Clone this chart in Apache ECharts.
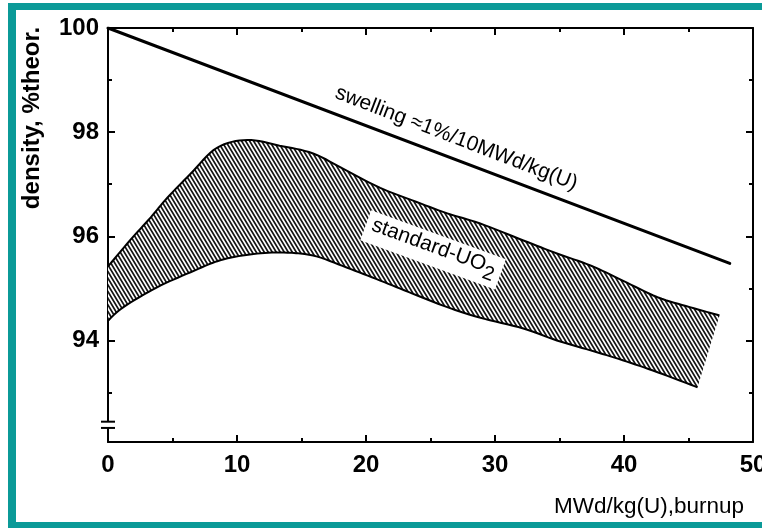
<!DOCTYPE html>
<html>
<head>
<meta charset="utf-8">
<script src="https://cdn.jsdelivr.net/npm/echarts@6/dist/echarts.min.js"></script>
<style>
  html, body { margin: 0; padding: 0; background: #fff; overflow: hidden; }
  #frame {
    position: absolute; left: 8px; top: 3px; width: 754px; height: 525px;
    box-sizing: border-box;
    border-left: 8px solid #0b9a98; border-top: 7px solid #0b9a98; border-bottom: 6px solid #0b9a98;
  }
  #chart { position: absolute; left: 0; top: 0; width: 762px; height: 528px; }
</style>
</head>
<body>
<div id="frame"></div>
<div id="chart"></div>
<script>
// Burnup axis (MWd/kg(U)) and density axis (% of theoretical density)
const xMin = 0, xMax = 50, xStep = 10;
const yMin = 92.05, yMax = 100;
const yLabelValues = [94, 96, 98, 100];
const yMinorValues = [93, 95, 97, 99];

// Swelling trend line: about 1% per 10 MWd/kg(U)
const swellingX = [0, 48.2];
const swellingY = [100, 95.48];

// Upper and lower edges of the standard-UO2 scatter band
const upperX = [0, 1.7, 3.3, 4.6, 6.4, 8.45, 10.8, 13.3, 15.9, 18.5, 21.1, 23.6, 26.3, 28.8, 32.2, 34.8, 37.4, 39.9, 42.6, 45.1, 47.4];
const upperY = [95.42, 95.92, 96.36, 96.74, 97.2, 97.7, 97.85, 97.74, 97.59, 97.26, 96.93, 96.69, 96.44, 96.25, 95.92, 95.67, 95.44, 95.15, 94.83, 94.64, 94.48];
const lowerX = [0, 1.2, 3.8, 6.4, 8.7, 11.0, 13.3, 15.9, 18.5, 21.1, 23.6, 26.3, 28.8, 32.2, 34.8, 37.4, 39.9, 42.6, 45.7];
const lowerY = [94.38, 94.64, 95.02, 95.31, 95.54, 95.65, 95.69, 95.63, 95.40, 95.15, 94.90, 94.64, 94.44, 94.23, 94.00, 93.81, 93.62, 93.39, 93.10];

// Broken-axis marks on the density axis
const breakLevels = [92.44, 92.32];

// In-plot annotations (anchor in data units)
const swellingNote = { text: 'swelling \u22481%/10MWd/kg(U)', x: 27.0, y: 97.88 };
const bandNote = { text: 'standard-UO', sub: '2', x: 25.2, y: 95.74 };

const FONT = '"Liberation Sans", Arial, Helvetica, sans-serif';

// Diagonal hatch used to fill the band
function makeHatch() {
  const W = 4, H = 20, k = 0.6, period = 4;
  const c = document.createElement('canvas');
  c.width = W; c.height = H;
  const ctx = c.getContext('2d');
  const img = ctx.createImageData(W, H);
  for (let y = 0; y < H; y++) {
    for (let x = 0; x < W; x++) {
      let cov = 0;
      for (let sy = 0; sy < 4; sy++) {
        for (let sx = 0; sx < 4; sx++) {
          const px = x + (sx + 0.5) / 4, py = y + (sy + 0.5) / 4;
          const ph = ((px - py * k) % period + period) % period;
          if (ph < 2) cov++;
        }
      }
      const v = Math.round(255 - (255 - 20) * cov / 16);
      const i = (y * W + x) * 4;
      img.data[i] = v; img.data[i + 1] = v; img.data[i + 2] = v; img.data[i + 3] = 255;
    }
  }
  ctx.putImageData(img, 0, 0);
  return c;
}
const hatch = makeHatch();

// Catmull-Rom curve through screen points, so the band edges render smoothly
function smoothPath(pts, seg) {
  const out = [pts[0]];
  const n = pts.length;
  for (let i = 0; i < n - 1; i++) {
    const p0 = pts[Math.max(i - 1, 0)], p1 = pts[i], p2 = pts[i + 1], p3 = pts[Math.min(i + 2, n - 1)];
    for (let s = 1; s <= seg; s++) {
      const t = s / seg, t2 = t * t, t3 = t2 * t;
      const f = (a, b, c, d) => 0.5 * (2 * b + (-a + c) * t + (2 * a - 5 * b + 4 * c - d) * t2 + (-a + 3 * b - 3 * c + d) * t3);
      out.push([f(p0[0], p1[0], p2[0], p3[0]), f(p0[1], p1[1], p2[1], p3[1])]);
    }
  }
  return out;
}

const axisLineStyle = { color: '#000', width: 2 };
const tickStyle = { color: '#000', width: 2 };
const tickLabel = { fontSize: 24, fontWeight: 'bold', color: '#000', fontFamily: FONT };

function xAxisDef(pos, showLabels) {
  return {
    type: 'value', position: pos, min: xMin, max: xMax, interval: xStep,
    axisLine: { show: true, lineStyle: axisLineStyle },
    axisTick: { show: true, inside: true, length: 7, lineStyle: tickStyle },
    minorTick: { show: true, splitNumber: 2, length: 4, lineStyle: tickStyle },
    splitLine: { show: false },
    axisLabel: Object.assign({ show: showLabels, margin: 11, hideOverlap: false }, tickLabel)
  };
}
function yAxisDef(pos, tickValues, len, showLine, showLabels) {
  return {
    type: 'value', position: pos, min: yMin, max: yMax,
    axisLine: { show: showLine, lineStyle: axisLineStyle },
    axisTick: { show: true, inside: true, length: len, customValues: tickValues, lineStyle: tickStyle },
    splitLine: { show: false },
    axisLabel: showLabels
      ? Object.assign({ show: true, customValues: yLabelValues, margin: 9 }, tickLabel)
      : { show: false }
  };
}

const chart = echarts.init(document.getElementById('chart'), null, { renderer: 'canvas' });

chart.setOption({
  animation: false,
  backgroundColor: 'transparent',
  grid: { left: 108, right: 9, top: 28, bottom: 86, containLabel: false, outerBoundsMode: 'none' },
  xAxis: [xAxisDef('bottom', true), xAxisDef('top', false)],
  yAxis: [
    yAxisDef('left', yLabelValues, 7, true, true),
    yAxisDef('left', yMinorValues, 4, false, false),
    yAxisDef('right', yLabelValues, 7, true, false),
    yAxisDef('right', yMinorValues, 4, false, false)
  ],
  graphic: [
    {
      type: 'text', x: 32, y: 118, rotation: Math.PI / 2,
      style: { text: 'density, %theor.', font: 'bold 24px ' + FONT, fill: '#000', align: 'center', verticalAlign: 'middle' }
    },
    {
      type: 'text', x: 744, y: 507,
      style: { text: 'MWd/kg(U),burnup', font: '22.5px ' + FONT, fill: '#000', align: 'right', verticalAlign: 'middle' }
    }
  ],
  series: [
    {
      name: 'standard-UO2 band',
      type: 'custom',
      coordinateSystem: 'cartesian2d',
      xAxisIndex: 0, yAxisIndex: 0,
      clip: false,
      z: 2,
      data: [[upperX[0], upperY[0]]],
      renderItem: function (params, api) {
        const up = smoothPath(upperX.map((x, i) => api.coord([x, upperY[i]])), 8);
        const lo = smoothPath(lowerX.map((x, i) => api.coord([x, lowerY[i]])), 8);
        const poly = up.concat(lo.slice().reverse());
        return {
          type: 'group',
          children: [
            { type: 'polygon', shape: { points: poly }, style: { fill: { image: hatch, repeat: 'repeat' }, stroke: null } },
            { type: 'polyline', shape: { points: up }, style: { stroke: '#000', lineWidth: 2, fill: null } },
            { type: 'polyline', shape: { points: lo }, style: { stroke: '#000', lineWidth: 2, fill: null } }
          ]
        };
      }
    },
    {
      name: 'swelling',
      type: 'line',
      xAxisIndex: 0, yAxisIndex: 0,
      data: swellingX.map((x, i) => [x, swellingY[i]]),
      showSymbol: false,
      symbol: 'none',
      lineStyle: { color: '#000', width: 3, cap: 'round' },
      z: 3
    },
    {
      name: 'notes',
      type: 'custom',
      coordinateSystem: 'cartesian2d',
      xAxisIndex: 0, yAxisIndex: 0,
      clip: false,
      z: 4,
      data: [[swellingNote.x, swellingNote.y]],
      renderItem: function (params, api) {
        const p1 = api.coord([swellingNote.x, swellingNote.y]);
        const p2 = api.coord([bandNote.x, bandNote.y]);
        return {
          type: 'group',
          children: [
            {
              type: 'text', x: p1[0], y: p1[1], rotation: -21 * Math.PI / 180,
              style: { text: swellingNote.text, font: '21px ' + FONT, fill: '#000', align: 'center', verticalAlign: 'middle' }
            },
            {
              type: 'text', x: p2[0], y: p2[1], rotation: -20 * Math.PI / 180,
              style: {
                text: '{a|' + bandNote.text + '}{b|' + bandNote.sub + '}',
                align: 'center', verticalAlign: 'middle',
                backgroundColor: '#fff', padding: [2, 6, 2, 6],
                rich: {
                  a: { font: '21px ' + FONT, fill: '#000', padding: [0, 0, 6, 0] },
                  b: { font: '20px ' + FONT, fill: '#000', padding: [8, 0, 0, 0] }
                }
              }
            }
          ]
        };
      }
    },
    {
      name: 'axis break',
      type: 'custom',
      coordinateSystem: 'cartesian2d',
      xAxisIndex: 0, yAxisIndex: 0,
      clip: false,
      z: 5,
      data: [[xMin, breakLevels[0]]],
      renderItem: function (params, api) {
        const a = api.coord([xMin, breakLevels[0]]);
        const b = api.coord([xMin, breakLevels[1]]);
        return {
          type: 'group',
          children: [
            { type: 'rect', shape: { x: a[0] - 3, y: a[1], width: 6, height: b[1] - a[1] }, style: { fill: '#fff' } },
            { type: 'line', shape: { x1: a[0] - 7, y1: a[1], x2: a[0] + 7, y2: a[1] }, style: { stroke: '#000', lineWidth: 2 } },
            { type: 'line', shape: { x1: b[0] - 7, y1: b[1], x2: b[0] + 7, y2: b[1] }, style: { stroke: '#000', lineWidth: 2 } }
          ]
        };
      }
    }
  ]
});
</script>
</body>
</html>
